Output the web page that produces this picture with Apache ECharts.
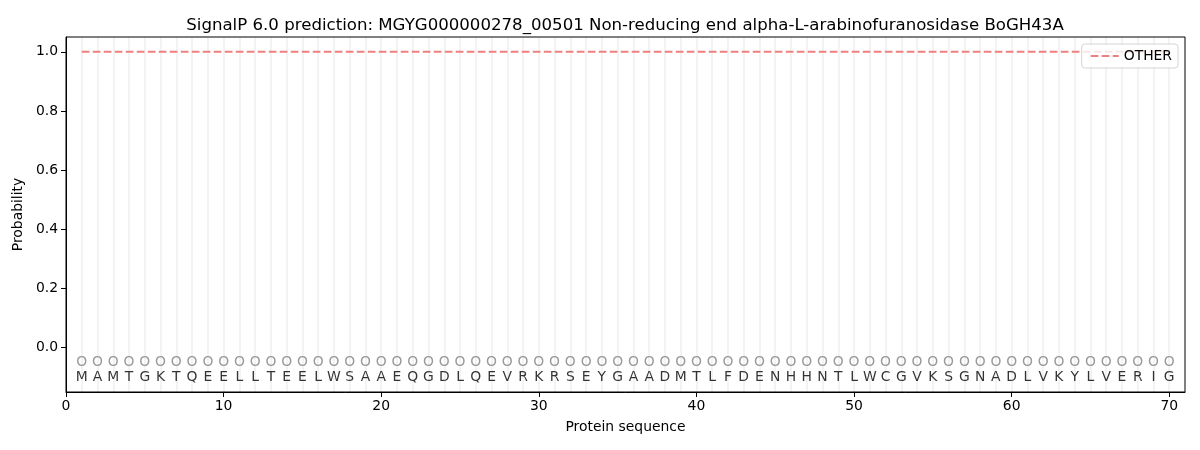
<!DOCTYPE html>
<html>
<head>
<meta charset="utf-8">
<script src="https://cdn.jsdelivr.net/npm/echarts@6/dist/echarts.min.js"></script>
<style>
  html, body { margin: 0; padding: 0; background: #fff; }
  #chart { width: 1200px; height: 450px; }
</style>
</head>
<body>
<div id="chart"></div>
<script>
// sequence residues, one per position
var residues = ['M','A','M','T','G','K','T','Q','E','E','L','L','T','E','E','L','W','S','A','A',
  'E','Q','G','D','L','Q','E','V','R','K','R','S','E','Y','G','A','A','D','M','T',
  'L','F','D','E','N','H','H','N','T','L','W','C','G','V','K','S','G','N','A','D',
  'L','V','K','Y','L','V','E','R','I','G'];
// predicted region label per position
var regions = ['O','O','O','O','O','O','O','O','O','O','O','O','O','O','O','O','O','O','O','O',
  'O','O','O','O','O','O','O','O','O','O','O','O','O','O','O','O','O','O','O','O',
  'O','O','O','O','O','O','O','O','O','O','O','O','O','O','O','O','O','O','O','O',
  'O','O','O','O','O','O','O','O','O','O'];
// probability of OTHER per position
var otherProb = [1,1,1,1,1,1,1,1,1,1,1,1,1,1,1,1,1,1,1,1,
  1,1,1,1,1,1,1,1,1,1,1,1,1,1,1,1,1,1,1,1,
  1,1,1,1,1,1,1,1,1,1,1,1,1,1,1,1,1,1,1,1,
  1,1,1,1,1,1,1,1,1,1];
var xTicks = [0, 10, 20, 30, 40, 50, 60, 70];
var yTicks = [0, 0.2, 0.4, 0.6, 0.8, 1.0];

var font = 'DejaVu Sans';
var lineColor = '#f08080';
var fs = 13.9;
var chart = echarts.init(document.getElementById('chart'));

var otherData = otherProb.map(function (v, i) { return [i + 1, v]; });
var regionData = regions.map(function (r, i) { return { value: [i + 1, -0.05], name: r }; });
var residueData = residues.map(function (r, i) { return { value: [i + 1, -0.1], name: r }; });
var gridLines = residues.map(function (r, i) { return { xAxis: i + 1 }; });

var option = {
  animation: false,
  backgroundColor: '#fff',
  textStyle: { fontFamily: font },
  title: {
    text: 'SignalP 6.0 prediction: MGYG000000278_00501 Non-reducing end alpha-L-arabinofuranosidase BoGH43A',
    left: 620, top: 12, textAlign: 'center',
    textStyle: { fontFamily: font, fontSize: 16.6, fontWeight: 'normal', color: '#000' }
  },
  legend: {
    right: 22, top: 44,
    padding: [5, 6, 5, 9],
    backgroundColor: 'rgba(255,255,255,0.8)',
    borderColor: '#d5d5d5', borderWidth: 1, borderRadius: 3,
    itemWidth: 28, itemHeight: 3, itemGap: 8,
    textStyle: { fontFamily: font, fontSize: fs, color: '#000' },
    data: [{ name: 'OTHER', icon: 'path://M0,0h7.7v2h-7.7zM11,0h7.7v2h-7.7zM22,0h6v2h-6z', itemStyle: { color: lineColor, opacity: 1 } }]
  },
  grid: { left: 66, right: 15, top: 37, bottom: 58, show: true, borderColor: '#000', borderWidth: 1, z: 10 },
  xAxis: {
    type: 'value', min: 0, max: 71,
    name: 'Protein sequence', nameLocation: 'middle', nameGap: 28,
    nameTextStyle: { fontFamily: font, fontSize: fs, color: '#000' },
    axisLine: { show: true, onZero: false, lineStyle: { color: '#000' } },
    axisTick: { show: true, length: 5, lineStyle: { color: '#000' }, customValues: xTicks },
    axisLabel: { color: '#000', fontSize: fs, fontFamily: font, margin: 7, customValues: xTicks },
    splitLine: { show: false }
  },
  yAxis: {
    type: 'value', min: -0.15, max: 1.05,
    name: 'Probability', nameLocation: 'middle', nameGap: 35,
    nameTextStyle: { fontFamily: font, fontSize: fs, color: '#000' },
    axisLine: { show: true, onZero: false, lineStyle: { color: '#000' } },
    axisTick: { show: true, length: 5, lineStyle: { color: '#000' }, customValues: yTicks },
    axisLabel: { color: '#000', fontSize: fs, fontFamily: font, margin: 8, customValues: yTicks,
      formatter: function (v) { return v.toFixed(1); } },
    splitLine: { show: false }
  },
  series: [
    {
      name: 'grid', type: 'scatter', data: [], silent: true, z: 0,
      markLine: {
        silent: true, symbol: ['none', 'none'], label: { show: false }, z: 0,
        lineStyle: { color: '#f3f3f3', width: 2, type: 'solid' },
        data: gridLines
      }
    },
    {
      name: 'OTHER', type: 'line', data: otherData, showSymbol: false, symbol: 'none',
      lineStyle: { color: lineColor, width: 2, type: [7.7, 3.3] },
      itemStyle: { color: lineColor },
      z: 3
    },
    {
      name: 'regions', type: 'scatter', data: regionData, symbolSize: 0, silent: true, z: 5,
      label: { show: true, position: 'inside', formatter: '{b}', color: '#808080',
        fontFamily: font, fontSize: fs }
    },
    {
      name: 'residues', type: 'scatter', data: residueData, symbolSize: 0, silent: true, z: 5,
      label: { show: true, position: 'inside', formatter: '{b}', color: '#000',
        fontFamily: font, fontSize: fs }
    }
  ]
};
chart.setOption(option);
</script>
</body>
</html>
